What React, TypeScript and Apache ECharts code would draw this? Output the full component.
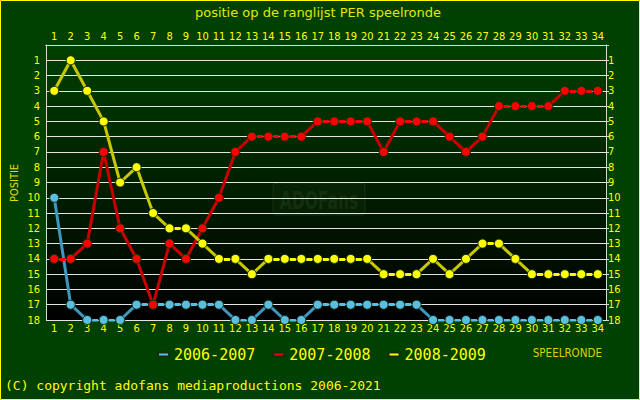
import React, { useEffect, useRef } from "react";
import * as echarts from "echarts";

const rounds = ["1","2","3","4","5","6","7","8","9","10","11","12","13","14","15","16","17","18","19","20","21","22","23","24","25","26","27","28","29","30","31","32","33","34"];
const season0607 = [10,17,18,18,18,17,17,17,17,17,17,18,18,17,18,18,17,17,17,17,17,17,17,18,18,18,18,18,18,18,18,18,18,18];
const season0708 = [14,14,13,7,12,14,17,13,14,12,10,7,6,6,6,6,5,5,5,5,7,5,5,5,6,7,6,4,4,4,4,3,3,3];
const season0809 = [3,1,3,5,9,8,11,12,12,13,14,14,15,14,14,14,14,14,14,14,15,15,15,14,15,14,13,13,14,15,15,15,15,15];
const seasonNames = ["2006-2007", "2007-2008", "2008-2009"];
const seasonValues = [season0607, season0708, season0809];
const brightColors = ["#5cbde2", "#ff0000", "#ffff00"];
const darkColors = ["#3f97bd", "#c80000", "#c8c800"];

const COND = "'DejaVu Sans Condensed', 'DejaVu Sans', sans-serif";
const MONO = "'DejaVu Sans Mono', monospace";

function segments(values: number[], flat: boolean) {
  const out: any[] = [];
  for (let i = 0; i < values.length - 1; i++) {
    const isFlat = values[i] === values[i + 1];
    if (isFlat === flat) {
      out.push({ coords: [[i, values[i]], [i + 1, values[i + 1]]] });
    }
  }
  return out;
}

export default function App() {
  const ref = useRef<HTMLDivElement>(null);
  useEffect(() => {
    if (!ref.current) return;
    const chart = echarts.init(ref.current, null, { renderer: "svg" });
    const series: any[] = [];
    seasonValues.forEach((vals, k) => {
      series.push({
        type: "lines",
        name: seasonNames[k] + " s",
        coordinateSystem: "cartesian2d",
        polyline: false,
        silent: true,
        z: 2,
        lineStyle: { color: darkColors[k], width: 3, type: "solid", opacity: 1 },
        data: segments(vals, false),
      });
      series.push({
        type: "lines",
        name: seasonNames[k] + " f",
        coordinateSystem: "cartesian2d",
        polyline: false,
        silent: true,
        z: 2,
        lineStyle: { color: brightColors[k], width: 3, type: [6, 20], dashOffset: 20.8, opacity: 1 },
        data: segments(vals, true),
      });
    });
    seasonValues.forEach((vals, k) => {
      series.push({
        type: "line",
        name: seasonNames[k],
        data: vals,
        symbol: "circle",
        symbolSize: 9,
        z: 3,
        itemStyle: { color: brightColors[k], borderColor: "#103010", borderWidth: 1 },
        lineStyle: { width: 0, opacity: 0 },
      });
    });

    const labelStyle = { color: "#ffff00", fontSize: 11, fontFamily: COND };
    const axisLineStyle = { color: "#d8d8d8", width: 1 };

    chart.setOption({
      animation: false,
      backgroundColor: "#004000",
      grid: {
        left: 46,
        right: 34,
        top: 45,
        bottom: 80,
        show: true,
        borderWidth: 0,
        backgroundColor: {
          type: "linear", x: 0, y: 0, x2: 0, y2: 1,
          colorStops: [
            { offset: 0, color: "#004000" },
            { offset: 1, color: "#000000" },
          ],
        },
      },
      legend: {
        data: seasonNames.map((n, i) => ({ name: n, icon: "rect", itemStyle: { color: brightColors[i] } })),
        left: 152,
        top: 342,
        itemWidth: 11,
        itemHeight: 4,
        itemGap: 17,
        selectedMode: false,
        textStyle: { color: "#ffff00", fontFamily: MONO, fontSize: 15 },
      },
      xAxis: [
        {
          type: "category",
          data: rounds,
          position: "bottom",
          boundaryGap: true,
          axisLine: { show: true, lineStyle: axisLineStyle },
          axisTick: { show: false },
          axisLabel: { ...labelStyle, margin: 3, interval: 0 },
          splitLine: { show: false },
        },
        {
          type: "category",
          data: rounds,
          position: "top",
          boundaryGap: true,
          axisLine: { show: true, lineStyle: axisLineStyle },
          axisTick: { show: false },
          axisLabel: { ...labelStyle, margin: 3, interval: 0 },
          splitLine: { show: false },
        },
      ],
      yAxis: [
        {
          type: "value",
          inverse: true,
          min: 0,
          max: 18,
          interval: 1,
          position: "left",
          axisLine: { show: true, lineStyle: axisLineStyle },
          axisTick: { show: false },
          axisLabel: { ...labelStyle, margin: 6, formatter: (v: number) => (v === 0 ? "" : String(v)) },
          splitLine: { show: true, lineStyle: { color: "#e4e4e4", width: 1 } },
        },
        {
          type: "value",
          inverse: true,
          min: 0,
          max: 18,
          interval: 1,
          position: "right",
          axisLine: { show: true, lineStyle: axisLineStyle },
          axisTick: { show: true, length: 3, inside: false, lineStyle: axisLineStyle },
          axisLabel: { ...labelStyle, margin: 2, formatter: (v: number) => (v === 0 ? "" : String(v)) },
          splitLine: { show: false },
        },
      ],
      graphic: [
        {
          type: "rect",
          z: 0,
          shape: { x: 273, y: 183, width: 92, height: 32, r: 3 },
          style: { fill: "rgba(30,60,20,0.2)", stroke: "rgba(40,70,30,0.5)", lineWidth: 1 },
        },
        {
          type: "text",
          z: 0,
          x: 319,
          y: 201,
          scaleX: 0.72,
          style: {
            text: "ADOFans",
            fill: "#12300d",
            font: "bold 24px " + COND,
            align: "center",
            verticalAlign: "middle",
          },
        },
        {
          type: "text",
          x: 318,
          y: 12,
          style: {
            text: "positie op de ranglijst PER speelronde",
            fill: "#e6e600",
            font: "13px 'DejaVu Sans', sans-serif",
            align: "center",
            verticalAlign: "middle",
          },
        },
        {
          type: "text",
          x: 14,
          y: 183,
          rotation: Math.PI / 2,
          style: {
            text: "POSITIE",
            fill: "#e0e000",
            font: "11px " + COND,
            align: "center",
            verticalAlign: "middle",
          },
        },
        {
          type: "text",
          x: 602,
          y: 353,
          style: {
            text: "SPEELRONDE",
            fill: "#d4d400",
            font: "11.5px " + COND,
            align: "right",
            verticalAlign: "middle",
          },
        },
        {
          type: "text",
          x: 5,
          y: 385,
          style: {
            text: "(C) copyright adofans mediaproductions 2006-2021",
            fill: "#ffff00",
            font: "13px " + MONO,
            align: "left",
            verticalAlign: "middle",
          },
        },
        {
          type: "rect",
          z: 100,
          shape: { x: 0.5, y: 0.5, width: 639, height: 399 },
          style: { fill: "none", stroke: "#ffff00", lineWidth: 1 },
        },
      ],
      series,
    });
    return () => chart.dispose();
  }, []);
  return <div ref={ref} style={{ position: "absolute", left: 0, top: 0, width: 640, height: 400 }} />;
}
